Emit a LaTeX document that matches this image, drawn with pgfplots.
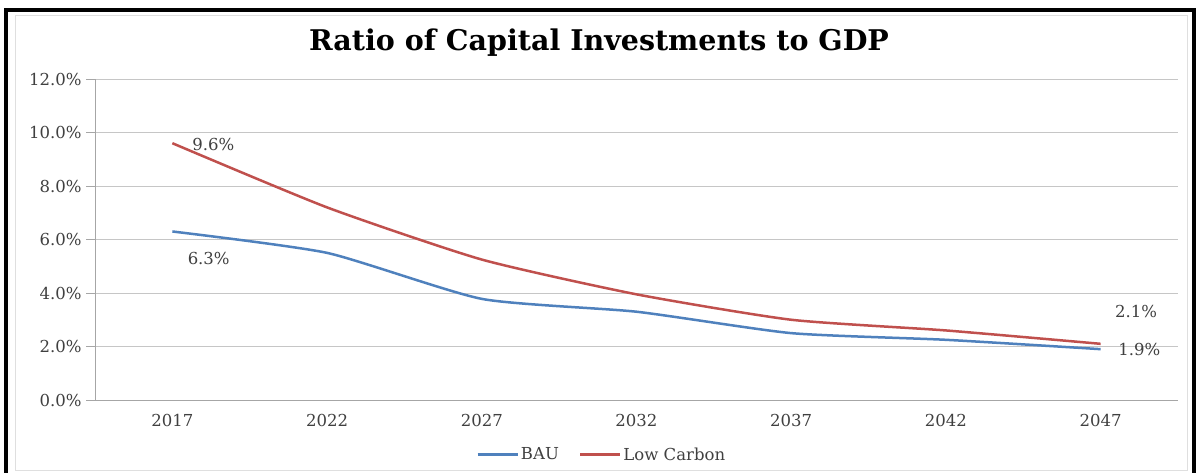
\documentclass[border=0pt]{standalone}
\usepackage{pgfplots}
\pgfplotsset{compat=1.18}
\usepackage{fontspec}
\setmainfont{DejaVu Serif}
\definecolor{bau}{HTML}{4F81BD}
\definecolor{lowc}{HTML}{C0504D}
\definecolor{tick}{HTML}{404040}
\begin{document}
\begin{tikzpicture}[x=1pt,y=1pt]
\useasboundingbox (0,0) rectangle (1198,473);
\fill[white] (0,0) rectangle (1198,473);
\draw[gray!25,line width=1pt] (15,2) rectangle (1187,457);
\draw[black,line width=4pt] (6,0) -- (6,463) -- (1194,463) -- (1194,0);
\node[font=\fontsize{28.5}{32}\selectfont\bfseries] at (599,430) {Ratio of Capital Investments to GDP};
\begin{axis}[
  at={(95pt,73pt)}, anchor=south west,
  scale only axis, width=1083pt, height=321pt,
  xmin=-0.5, xmax=6.5, ymin=0, ymax=12,
  xtick={0,...,6},
  xticklabels={2017,2022,2027,2032,2037,2042,2047},
  major x tick style={draw=none},
  extra x ticks={-0.5,0.5,1.5,2.5,3.5,4.5,5.5,6.5},
  extra x tick labels={},
  extra x tick style={major tick length=5pt, tick align=outside, tick style={gray!70}, grid=none},
  ytick={0,2,...,12},
  yticklabel={\pgfmathprintnumber[fixed,fixed zerofill,precision=1]{\tick}\%},
  /pgf/number format/assume math mode=true,
  ymajorgrids, grid style={gray!45, line width=0.8pt},
  tick align=outside, major tick length=9pt,
  ytick style={gray!70},
  axis x line*=bottom, axis y line*=left,
  axis line style={gray!70, line width=0.8pt},
  tick label style={font=\fontsize{16.5}{18}\selectfont, text=tick},
  xticklabel style={yshift=-2pt},
  yticklabel style={xshift=-1pt},
  legend style={at={(0.468,-0.135)}, anchor=north, draw=none, fill=none,
    font=\fontsize{16.5}{18}\selectfont, text=tick, legend columns=2,
    /tikz/every even column/.append style={column sep=18pt}},
  legend image code/.code={\draw[#1, line width=2.5pt] (0pt,0pt) -- (40pt,0pt);},
]
\addplot[bau, line width=2.5pt, smooth, tension=0.35] coordinates {
(0,6.3) (1,5.5) (2,3.78) (3,3.3) (4,2.5) (5,2.25) (6,1.9)};
\addlegendentry{BAU}
\addplot[lowc, line width=2.5pt, smooth, tension=0.35] coordinates {
(0,9.6) (1,7.2) (2,5.25) (3,3.95) (4,3.0) (5,2.6) (6,2.1)};
\addlegendentry{Low Carbon}
\node[font=\fontsize{16.5}{18}\selectfont, text=tick] at (axis cs:0.265,9.55) {9.6\%};
\node[font=\fontsize{16.5}{18}\selectfont, text=tick] at (axis cs:0.235,5.3) {6.3\%};
\node[font=\fontsize{16.5}{18}\selectfont, text=tick] at (axis cs:6.23,3.3) {2.1\%};
\node[font=\fontsize{16.5}{18}\selectfont, text=tick] at (axis cs:6.25,1.88) {1.9\%};
\end{axis}
\end{tikzpicture}
\end{document}
